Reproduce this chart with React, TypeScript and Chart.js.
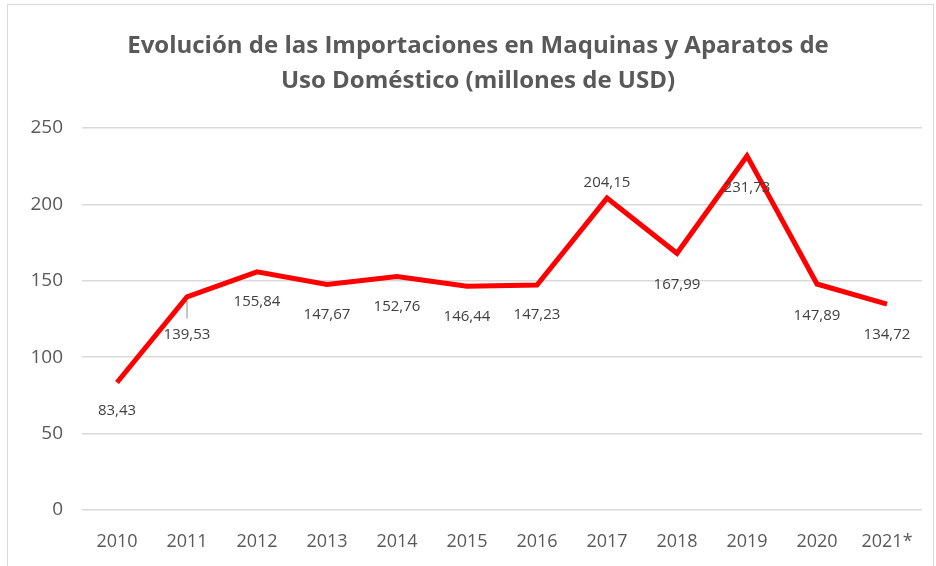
import React, { useEffect, useRef } from "react";
import { Chart, registerables } from "chart.js";

Chart.register(...registerables);

const categories = ["2010", "2011", "2012", "2013", "2014", "2015", "2016", "2017", "2018", "2019", "2020", "2021*"];
const values = [83.43, 139.53, 155.84, 147.67, 152.76, 146.44, 147.23, 204.15, 167.99, 231.73, 147.89, 134.72];
const valueLabels = ["83,43", "139,53", "155,84", "147,67", "152,76", "146,44", "147,23", "204,15", "167,99", "231,73", "147,89", "134,72"];
const titleLines = ["Evolución de las Importaciones en Maquinas y Aparatos de", "Uso Doméstico (millones de USD)"];

// label vertical offsets (px) relative to each point
const labelOffsets = [28, 38, 30, 30, 30, 30, 30, -15, 31, 32, 32, 31];

const labelPlugin = {
  id: "valueLabels",
  afterDatasetsDraw(chart: any) {
    const ctx = chart.ctx;
    const meta = chart.getDatasetMeta(0);
    ctx.save();
    ctx.font = "15px 'Open Sans', sans-serif";
    ctx.fillStyle = "#404040";
    ctx.textAlign = "center";
    ctx.textBaseline = "middle";
    meta.data.forEach((pt: any, i: number) => {
      const dy = labelOffsets[i];
      if (i === 1) {
        ctx.strokeStyle = "#8c8c8c";
        ctx.lineWidth = 1;
        ctx.beginPath();
        ctx.moveTo(pt.x, pt.y + 4);
        ctx.lineTo(pt.x, pt.y + 22);
        ctx.stroke();
      }
      ctx.fillText(valueLabels[i], pt.x, pt.y + dy);
    });
    ctx.restore();
  },
};

const titlePlugin = {
  id: "customTitle",
  afterDraw(chart: any) {
    const ctx = chart.ctx;
    ctx.save();
    ctx.font = "bold 24px 'Open Sans', sans-serif";
    ctx.fillStyle = "#595959";
    ctx.textAlign = "center";
    ctx.textBaseline = "middle";
    titleLines.forEach((line, i) => {
      ctx.fillText(line, 478, 46 + i * 35);
    });
    ctx.restore();
  },
};

export default function App() {
  const ref = useRef<HTMLCanvasElement>(null);
  useEffect(() => {
    if (!ref.current) return;
    const chart = new Chart(ref.current, {
      type: "line",
      data: {
        labels: categories,
        datasets: [
          {
            data: values,
            borderColor: "#ff0000",
            borderWidth: 5,
            pointRadius: 0,
            tension: 0,
            fill: false,
          },
        ],
      },
      options: {
        responsive: false,
        animation: false,
        layout: { padding: { left: 0, right: 14, top: 128, bottom: 11 } },
        plugins: {
          legend: { display: false },
          tooltip: { enabled: false },
          title: { display: false },
        },
        scales: {
          x: {
            offset: true,
            grid: { display: false, drawTicks: false },
            border: { display: false },
            afterFit: (s: any) => {
              s.height = 45;
            },
            ticks: {
              color: "#595959",
              font: { family: "'Open Sans', sans-serif", size: 18 },
              padding: 21,
              maxRotation: 0,
              autoSkip: false,
            },
          },
          y: {
            min: 0,
            max: 250,
            grid: { color: "#d9d9d9", lineWidth: 1.5, drawTicks: false },
            border: { display: false },
            afterFit: (s: any) => {
              s.width = 82;
            },
            ticks: {
              stepSize: 50,
              color: "#595959",
              font: { family: "'Open Sans', sans-serif", size: 19 },
              padding: 19,
            },
          },
        },
      },
      plugins: [labelPlugin, titlePlugin],
    });
    return () => chart.destroy();
  }, []);
  return (
    <div style={{ position: "absolute", left: 0, top: 0, width: 936, height: 566, background: "#fff", overflow: "hidden" }}>
      <div
        style={{
          position: "absolute",
          left: 7,
          top: 4,
          width: 927,
          height: 580,
          border: "1px solid #d9d9d9",
          boxSizing: "border-box",
        }}
      />
      <canvas ref={ref} width={936} height={566} style={{ position: "absolute", left: 0, top: 0 }} />
    </div>
  );
}
